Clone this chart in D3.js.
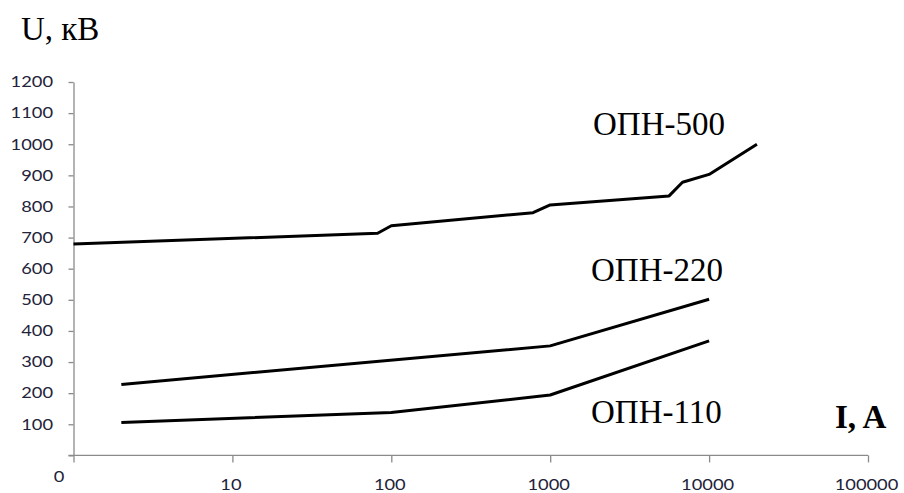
<!DOCTYPE html>
<html>
<head>
<meta charset="utf-8">
<script src="https://cdn.jsdelivr.net/npm/d3@7"></script>
<style>
  html, body { margin: 0; padding: 0; background: #fff; }
  svg { display: block; }
</style>
</head>
<body>
<svg id="chart" width="904" height="493"></svg>
<script>
// Current (A) and residual voltage (kV) for each surge arrester
const current500 = [1, 82, 100, 780, 1000, 5600, 6800, 10000, 20000];
const voltage500 = [679, 714, 738, 780, 805, 834, 878, 903, 1000];

const current220 = [2, 1000, 10000];
const voltage220 = [228, 352, 502];

const current110 = [2, 100, 1000, 10000];
const voltage110 = [106, 138, 194, 368];

const seriesNames = ["ОПН-500", "ОПН-220", "ОПН-110"];

const xTickValues = [1, 10, 100, 1000, 10000, 100000];
const xTickLabels = ["0", "10", "100", "1000", "10000", "100000"];
const yTickValues = [100, 200, 300, 400, 500, 600, 700, 800, 900, 1000, 1100, 1200];

const svg = d3.select("#chart");

const x = d3.scaleLog().domain([1, 100000]).range([73.5, 868]);
const y = d3.scaleLinear().domain([0, 1200]).range([455.4, 82]);

const axisColor = "#8a8a8a";
const tickFont = "Lato, 'DejaVu Sans', sans-serif";
const tickSize = 15;
const labelColor = "#23233a";
const stretch = 1.22;

// Y axis
const gy = svg.append("g")
  .attr("transform", `translate(${x(1)},0)`)
  .call(d3.axisLeft(y).tickValues([0, ...yTickValues]).tickSize(5).tickSizeOuter(0)
    .tickFormat(d => d === 0 ? "" : d));
gy.select(".domain").attr("stroke", axisColor).attr("stroke-width", 1.3);
gy.selectAll(".tick line").attr("stroke", axisColor).attr("stroke-width", 1.3);
gy.selectAll(".tick text")
  .attr("font-family", tickFont)
  .attr("font-size", tickSize)
  .attr("fill", labelColor)
  .attr("x", -20.5 / stretch)
  .attr("transform", `scale(${stretch},1)`);

// X axis (logarithmic)
const gx = svg.append("g")
  .attr("transform", `translate(0,${y(0)})`)
  .call(d3.axisBottom(x).tickValues(xTickValues).tickSize(7).tickSizeOuter(0)
    .tickFormat((d, i) => xTickLabels[i]));
gx.select(".domain").attr("stroke", axisColor).attr("stroke-width", 1.3)
  .attr("d", `M${x(1) - 5},0H${x(100000)}`);
gx.selectAll(".tick line").attr("stroke", axisColor).attr("stroke-width", 1.3);
gx.selectAll(".tick").each(function(d, i) {
  d3.select(this).select("text")
    .attr("font-family", tickFont)
    .attr("font-size", tickSize)
    .attr("fill", labelColor)
    .attr("dy", null)
    .attr("y", i === 0 ? 26.5 : 35)
    .attr("x", i === 0 ? -15 / stretch : -2 / stretch)
    .attr("transform", `scale(${stretch},1)`);
});

// Curves
const line = d3.line().x(d => x(d[0])).y(d => y(d[1]));
const series = [
  d3.zip(current500, voltage500),
  d3.zip(current220, voltage220),
  d3.zip(current110, voltage110)
];
svg.append("g").selectAll("path")
  .data(series)
  .join("path")
  .attr("d", line)
  .attr("fill", "none")
  .attr("stroke", "#000")
  .attr("stroke-width", 3)
  .attr("stroke-linejoin", "round")
  .attr("stroke-linecap", "butt");

// Series labels
const serif = "'Liberation Serif', 'Times New Roman', serif";
const serifSize = 33;
const labelPos = [[593, 135], [591, 281], [591, 423]];
svg.append("g").selectAll("text")
  .data(seriesNames)
  .join("text")
  .attr("x", (d, i) => labelPos[i][0])
  .attr("y", (d, i) => labelPos[i][1])
  .attr("font-family", serif)
  .attr("font-size", serifSize)
  .attr("fill", "#000")
  .text(d => d);

// Axis titles
svg.append("text")
  .attr("x", 21).attr("y", 40)
  .attr("font-family", serif).attr("font-size", serifSize).attr("fill", "#000")
  .text("U, кВ");
svg.append("text")
  .attr("x", 835).attr("y", 428)
  .attr("font-family", serif).attr("font-size", serifSize).attr("font-weight", "bold").attr("fill", "#000")
  .text("I, A");
</script>
</body>
</html>
